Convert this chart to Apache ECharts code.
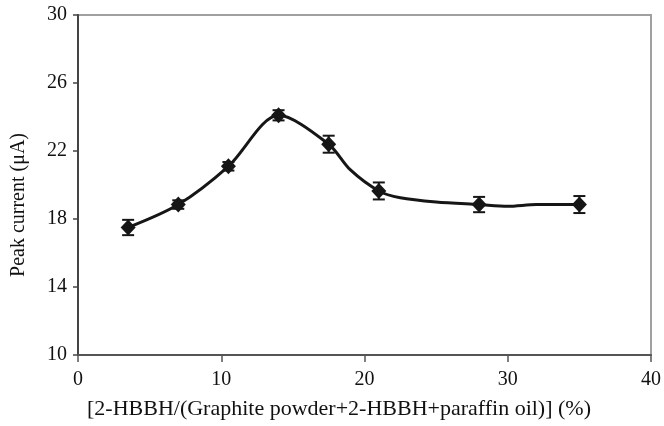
<!DOCTYPE html>
<html>
<head>
<meta charset="utf-8">
<script src="https://cdn.jsdelivr.net/npm/echarts@6/dist/echarts.min.js"></script>
<style>html,body{margin:0;padding:0;background:#fff}#c{width:664px;height:426px}</style>
</head>
<body>
<div id="c"></div>
<script>
// Data
const xValues = [3.5, 7, 10.5, 14, 17.5, 21, 28, 35];
const peakCurrent = [17.5, 18.85, 21.1, 24.1, 22.4, 19.65, 18.85, 18.85];
const errorSize = [0.45, 0.25, 0.25, 0.3, 0.5, 0.5, 0.45, 0.5];
// Smoothed trend curve as drawn in the picture
const curveX = [3.5, 7, 10.5, 14, 17.5, 19, 21, 22.5, 25, 28, 30, 32, 35];
const curveY = [17.5, 18.85, 21.1, 24.1, 22.4, 20.9, 19.65, 19.25, 19.0, 18.85, 18.75, 18.85, 18.85];
const xTicks = [0, 10, 20, 30, 40];
const yTicks = [10, 14, 18, 22, 26, 30];
const xTitle = '[2-HBBH/(Graphite powder+2-HBBH+paraffin oil)] (%)';
const yTitle = 'Peak current (\u03BCA)';

const FONT = '"Liberation Serif", "Times New Roman", serif';
const markerData = xValues.map((x, i) => [x, peakCurrent[i]]);
const curveData = curveX.map((x, i) => [x, curveY[i]]);
const errData = xValues.map((x, i) => [x, peakCurrent[i] - errorSize[i], peakCurrent[i] + errorSize[i]]);

const chart = echarts.init(document.getElementById('c'), null, {renderer: 'canvas'});
chart.setOption({
  animation: false,
  backgroundColor: '#fff',
  grid: {left: 78, right: 12, top: 15, bottom: 71, show: true, borderColor: '#a0a0a0', borderWidth: 2, backgroundColor: 'transparent'},
  xAxis: {
    type: 'value', min: xTicks[0], max: xTicks[xTicks.length - 1], interval: 10,
    axisLine: {show: true, lineStyle: {color: '#555', width: 2}},
    axisTick: {show: true, inside: false, length: 7, lineStyle: {color: '#555', width: 1.5}},
    axisLabel: {fontFamily: FONT, fontSize: 20, color: '#111', margin: 15},
    splitLine: {show: false}
  },
  yAxis: {
    type: 'value', min: yTicks[0], max: yTicks[yTicks.length - 1], interval: 4,
    axisLine: {show: true, lineStyle: {color: '#444', width: 2}},
    axisTick: {show: true, inside: false, length: 5, lineStyle: {color: '#444', width: 1.5}},
    axisLabel: {fontFamily: FONT, fontSize: 20, color: '#111', margin: 11},
    splitLine: {show: false}
  },
  graphic: [
    {type: 'text', x: 339, y: 409,
     style: {text: xTitle, font: '22px ' + FONT, fill: '#111', align: 'center', verticalAlign: 'middle'}},
    {type: 'text', x: 19, y: 205, rotation: Math.PI / 2,
     style: {text: yTitle, font: '20px ' + FONT, fill: '#111', align: 'center', verticalAlign: 'middle'}}
  ],
  series: [
    {type: 'line', data: curveData, smooth: 0.3, symbol: 'none',
     lineStyle: {color: '#161616', width: 3}, z: 2},
    {type: 'custom', data: errData, z: 3,
     renderItem: function (params, api) {
       const x = api.value(0);
       const lo = api.coord([x, api.value(1)]);
       const hi = api.coord([x, api.value(2)]);
       const w = 6;
       const st = {stroke: '#161616', lineWidth: 2};
       return {type: 'group', children: [
         {type: 'line', shape: {x1: lo[0], y1: lo[1], x2: hi[0], y2: hi[1]}, style: st},
         {type: 'line', shape: {x1: hi[0] - w, y1: hi[1], x2: hi[0] + w, y2: hi[1]}, style: st},
         {type: 'line', shape: {x1: lo[0] - w, y1: lo[1], x2: lo[0] + w, y2: lo[1]}, style: st}
       ]};
     }},
    {type: 'scatter', data: markerData, symbol: 'diamond', symbolSize: [15, 16],
     itemStyle: {color: '#161616', opacity: 1}, z: 4}
  ]
});
</script>
</body>
</html>
